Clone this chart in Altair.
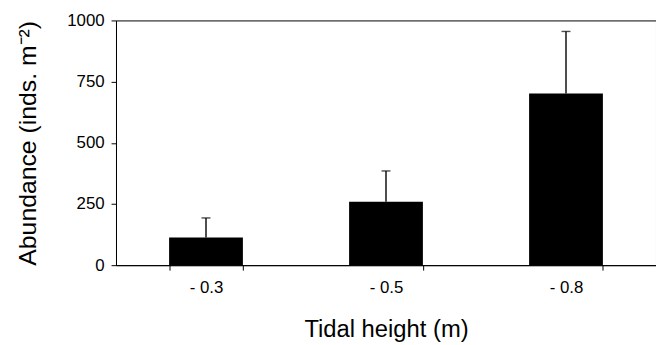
import altair as alt
import pandas as pd

heights = ["- 0.3", "- 0.5", "- 0.8"]
means = [113, 259, 701]
upper = [193, 385, 955]

df = pd.DataFrame({"h": heights, "mean": means, "upper": upper})

FONT = "Liberation Sans"

x = alt.X(
    "h:N",
    sort=heights,
    scale=alt.Scale(paddingInner=0.59, paddingOuter=0.295),
    axis=alt.Axis(
        title="Tidal height (m)",
        labelAngle=0,
        tickBand="extent",
        tickSize=5,
        labelPadding=10,
        labelFontSize=17,
        titleFontSize=24,
        titleFontWeight="normal",
        titleY=72,
        titleBaseline="alphabetic",
    ),
)

y = alt.Y(
    "mean:Q",
    scale=alt.Scale(domain=[0, 1000]),
    axis=alt.Axis(
        title="Abundance (inds. m\u207b\u00b2)",
        values=[0, 250, 500, 750, 1000],
        format="d",
        tickSize=5,
        labelPadding=7,
        labelFontSize=17,
        titleFontSize=25,
        titleFontWeight="normal",
        titleX=-81,
        titleBaseline="alphabetic",
        grid=False,
    ),
)

base = alt.Chart(df)

bars = base.mark_bar(color="black").encode(x=x, y=y)
err = base.mark_rule(color="black", strokeWidth=1.4).encode(
    x=alt.X("h:N", sort=heights), y="mean:Q", y2="upper:Q"
)
cap = base.mark_tick(color="black", thickness=1.4, size=9, orient="horizontal").encode(
    x=alt.X("h:N", sort=heights), y="upper:Q"
)

chart = (
    alt.layer(bars, err, cap)
    .properties(
        width=545,
        height=247,
        autosize=alt.AutoSizeParams(type="none"),
        padding={"left": 109, "top": 11, "right": 0, "bottom": 78},
    )
    .configure(font=FONT)
    .configure_view(stroke="black", strokeWidth=1)
    .configure_axis(
        domainColor="black",
        tickColor="black",
        labelColor="black",
        titleColor="black",
        labelFont=FONT,
        titleFont=FONT,
    )
)

chart.save("out.html", embed_options={"renderer": "svg", "actions": False})
